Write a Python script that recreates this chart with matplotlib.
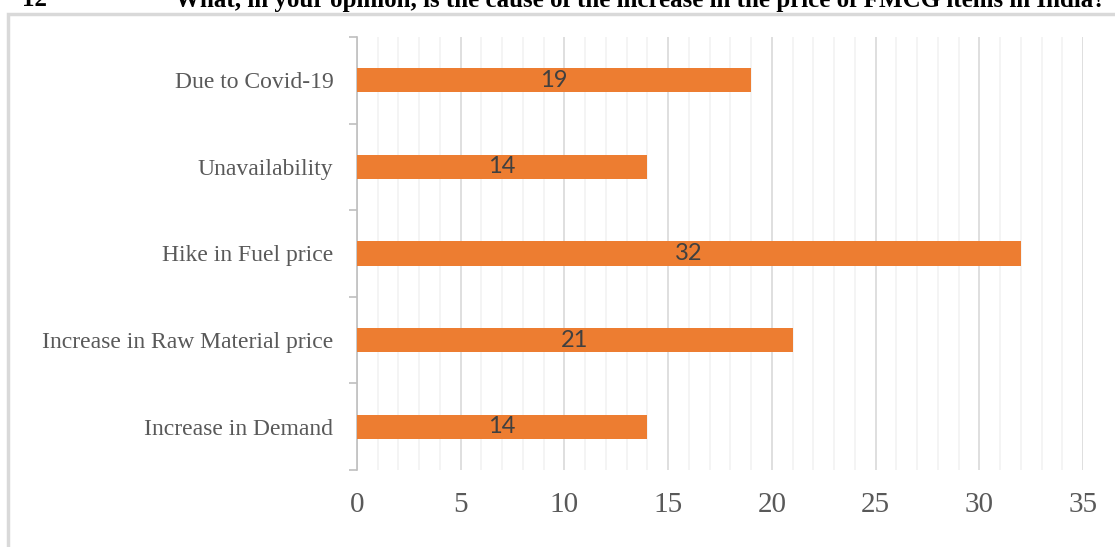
import matplotlib.pyplot as plt
import numpy as np

# Survey responses: causes of FMCG price increase
causes = ['Increase in Demand', 'Increase in Raw Material price',
          'Hike in Fuel price', 'Unavailability', 'Due to Covid-19']
counts = [14, 21, 32, 14, 19]
xticks = [0, 5, 10, 15, 20, 25, 30, 35]

fig = plt.figure(figsize=(11.15, 5.47), dpi=100)

# heading of the question, partly cut off at the top
fig.text(22 / 1115, 1.0, '12', fontsize=18, fontweight='bold', family='Liberation Serif',
         va='center', ha='left')
fig.text(175 / 1115, 1.0, 'What, in your opinion, is the cause of the increase in the price of FMCG items in India?',
         fontsize=18, fontweight='bold', family='Liberation Serif', va='center', ha='left')

# chart frame
frame = plt.Rectangle((8 / 1115, -0.1), 1.2, 1 - 14 / 547 + 0.1, transform=fig.transFigure,
                      fill=False, edgecolor='#D9D9D9', linewidth=2.5)
fig.patches.append(frame)

ax = fig.add_axes([357 / 1115, 1 - 470 / 547, (1083 - 357) / 1115, (470 - 37) / 547])
y = np.arange(len(causes))
bars = ax.barh(y, counts, height=0.28, color='#ED7D31', zorder=3)
for yi, c in zip(y, counts):
    ax.text(c / 2, yi, str(c), ha='center', va='center', fontsize=17,
            color='#404040', family='Lato', zorder=4)

ax.set_xlim(0, 35)
ax.set_ylim(-0.5, len(causes) - 0.5)
ax.set_xticks(xticks)
ax.set_xticks(np.arange(0, 36, 1), minor=True)
ax.grid(axis='x', which='minor', color='#F2F2F2', linewidth=1.2, zorder=0)
ax.grid(axis='x', which='major', color='#D9D9D9', linewidth=1.2, zorder=1)
ax.tick_params(axis='x', which='both', length=0, pad=16, labelsize=21,
               labelcolor='#595959')
for lab in ax.get_xticklabels():
    lab.set_family('Liberation Serif')

ax.set_yticks(y)
ax.set_yticklabels(causes, family='Liberation Serif', fontsize=17, color='#595959')
ax.set_yticks(np.arange(-0.5, len(causes), 1), minor=True)
ax.tick_params(axis='y', which='major', length=0, pad=17)
ax.tick_params(axis='y', which='minor', length=6, color='#BFBFBF', width=1.2)

for s in ['top', 'right', 'bottom']:
    ax.spines[s].set_visible(False)
ax.spines['left'].set_color('#BFBFBF')
ax.spines['left'].set_linewidth(1.2)

fig.savefig('out.png', dpi=100)
